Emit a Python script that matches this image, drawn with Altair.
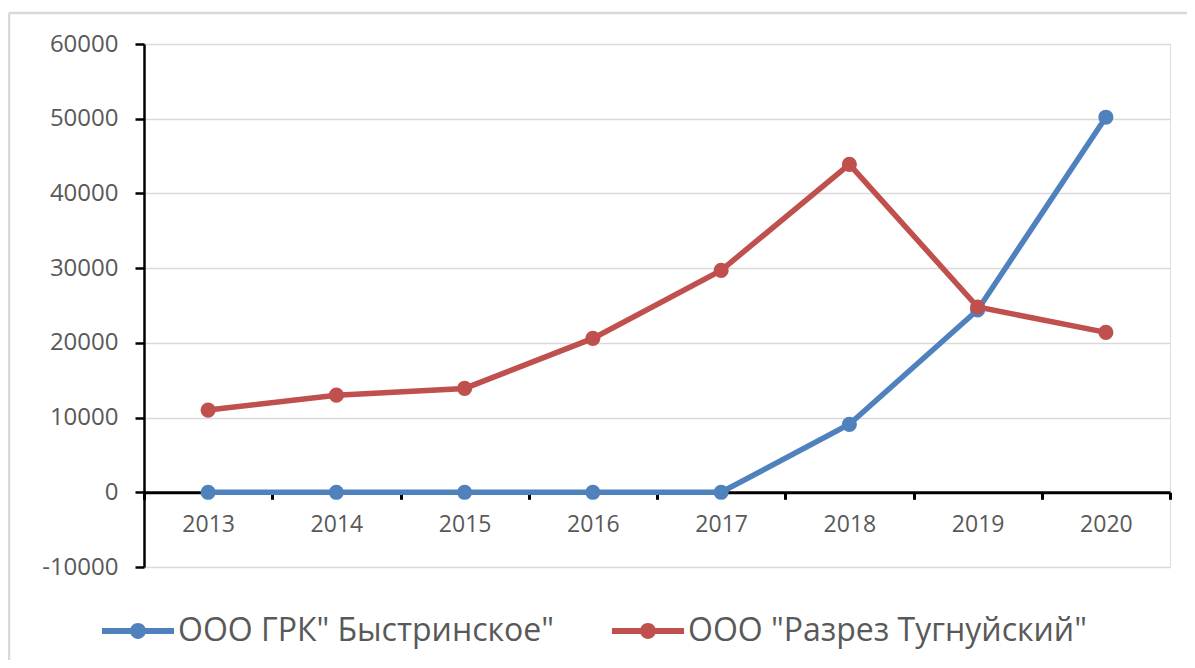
import altair as alt
import pandas as pd

years = ["2013", "2014", "2015", "2016", "2017", "2018", "2019", "2020"]
series_names = ['ООО ГРК" Быстринское"', 'ООО "Разрез Тугнуйский"']
bystrinskoe = [0, 0, 0, 0, 0, 9100, 24400, 50200]
tugnuisky = [11000, 13000, 13900, 20600, 29700, 43900, 24800, 21400]
colors = ["#4F81BD", "#C0504D"]
y_ticks = [-10000, 0, 10000, 20000, 30000, 40000, 50000, 60000]

rows = []
for i, y in enumerate(years):
    rows.append({"year": y, "series": series_names[0], "value": bystrinskoe[i], "order": 0})
for i, y in enumerate(years):
    rows.append({"year": y, "series": series_names[1], "value": tugnuisky[i], "order": 1})
df = pd.DataFrame(rows)

FONT = "Open Sans"
W, H = 1026, 523
zero_off = -H * 1 / 7

x_enc = alt.X(
    "year:N",
    sort=years,
    scale=alt.Scale(type="band", paddingInner=0, paddingOuter=0),
    axis=alt.Axis(
        title=None, labelAngle=0, offset=zero_off, tickBand="extent",
        domainColor="black", domainWidth=3, tickColor="black", tickWidth=3,
        tickSize=7, labelPadding=14, labelFontSize=23, labelColor="#595959",
        labelFont=FONT, grid=False,
    ),
)
y_enc = alt.Y(
    "value:Q",
    scale=alt.Scale(domain=[-10000, 60000], nice=False),
    axis=alt.Axis(
        title=None, values=y_ticks, labelExpr="'' + datum.value",
        domainColor="black", domainWidth=2.5,
        tickColor="black", tickWidth=2.5, tickSize=9, labelPadding=17,
        labelFontSize=24, labelColor="#595959", labelFont=FONT,
        gridColor="#d9d9d9", gridWidth=1.5,
    ),
)

sym_path = ("M-1,-0.083L1,-0.083L1,0.083L-1,0.083Z "
            "M0.22,0A0.22,0.22 0 1,1 -0.22,0A0.22,0.22 0 1,1 0.22,0Z")

base = alt.Chart(df)
lines = base.mark_line(strokeWidth=5.5).encode(
    x=x_enc, y=y_enc,
    stroke=alt.Stroke("series:N", scale=alt.Scale(domain=series_names, range=colors), legend=None),
    detail="series:N",
    order="order:Q",
)
points = base.mark_point(filled=True, size=230, opacity=1).encode(
    x=x_enc, y=y_enc,
    color=alt.Color(
        "series:N", scale=alt.Scale(domain=series_names, range=colors),
        legend=alt.Legend(
            title=None, orient="none", legendX=-42, legendY=551,
            direction="horizontal", columns=2, columnPadding=58,
            symbolType=sym_path, symbolSize=5184, symbolStrokeWidth=0,
            labelFont=FONT, labelFontSize=32, labelColor="#595959",
            labelLimit=800, labelOffset=4,
        ),
    ),
    order="order:Q",
)
frame_left = alt.Chart(pd.DataFrame({"k": [0]})).mark_rule(color="#d9d9d9", strokeWidth=2.5).encode(
    x=alt.value(-135), y=alt.value(-31), y2=alt.value(640)
)
frame_top = alt.Chart(pd.DataFrame({"k": [0]})).mark_rule(color="#d9d9d9", strokeWidth=2.5).encode(
    x=alt.value(-135), x2=alt.value(1060), y=alt.value(-31)
)

chart = alt.layer(frame_left, frame_top, lines, points).resolve_scale(
    color="independent", stroke="independent"
).properties(
    width=W, height=H,
    autosize=alt.AutoSizeParams(type="none"),
    padding={"left": 136, "top": 36, "right": 17, "bottom": 93},
).configure_view(stroke=None).configure(background="white")

chart.save("out.html", embed_options={"renderer": "svg", "actions": False})
